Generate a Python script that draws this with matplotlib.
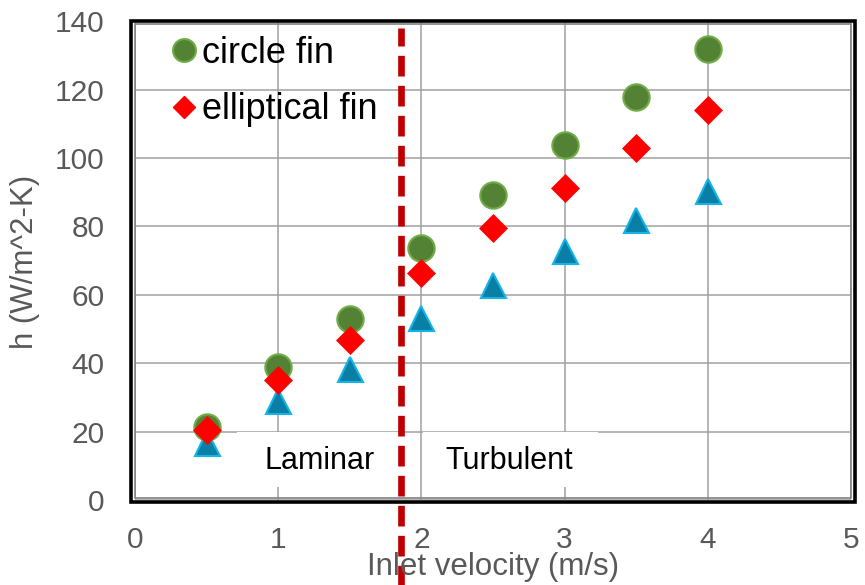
import matplotlib
matplotlib.use("Agg")
import matplotlib.pyplot as plt
from matplotlib.patches import Rectangle
from matplotlib.lines import Line2D

# data
velocity = [0.5, 1.0, 1.5, 2.0, 2.5, 3.0, 3.5, 4.0]
h_circle = [21.4, 39.0, 52.9, 73.6, 89.2, 103.7, 117.9, 131.8]
h_ellipse = [20.5, 35.1, 46.8, 66.3, 79.4, 91.3, 103.0, 114.0]
h_third = [16.6, 29.0, 38.4, 53.1, 62.9, 72.7, 81.9, 90.4]
x_ticks = [0, 1, 2, 3, 4, 5]
y_ticks = [0, 20, 40, 60, 80, 100, 120, 140]
transition_v = 1.857

W, H = 865, 585
fig = plt.figure(figsize=(W / 100, H / 100), dpi=100)


def px(x0, y0, x1, y1):
    # pixel box (top-left origin) -> figure fraction rect
    return [x0 / W, 1 - y1 / H, (x1 - x0) / W, (y1 - y0) / H]


ax = fig.add_axes(px(135, 21.2, 851, 500))
ax.set_xlim(0, 5)
ax.set_ylim(0, 140)
for s in ax.spines.values():
    s.set_visible(False)
ax.grid(True, color="#A0A0A0", linewidth=1.1, zorder=0)
ax.set_axisbelow(True)

tick_font = dict(family="Liberation Sans", size=21.5, color="#595959")
ax.set_xticks(x_ticks)
ax.set_yticks(y_ticks)
ax.set_xticklabels([str(t) for t in x_ticks], **tick_font)
ax.set_yticklabels([str(t) for t in y_ticks], **tick_font)
ax.tick_params(axis="both", length=0)
ax.tick_params(axis="x", pad=19)
ax.tick_params(axis="y", pad=22)

# frame: grey inner line and black outer line
inner = px(135, 23.5, 851, 497.5)
outer = px(131, 20.5, 855, 501.5)
fig.add_artist(Rectangle(inner[:2], inner[2], inner[3], transform=fig.transFigure,
                         fill=False, ec="#808080", lw=1.2))
fig.add_artist(Rectangle(outer[:2], outer[2], outer[3], transform=fig.transFigure,
                         fill=False, ec="black", lw=2.6))

# region labels sitting in white boxes
ax.add_patch(Rectangle((0.71, 3.8), transition_v - 0.71, 16.0, fc="white", ec="none", zorder=1))
ax.add_patch(Rectangle((2.01, 3.8), 1.22, 16.0, fc="white", ec="none", zorder=1))
lab_font = dict(family="Liberation Sans", size=22, color="black", zorder=2,
                ha="center", va="center")
ax.text(1.29, 11.5, "Laminar", **lab_font)
ax.text(2.61, 11.5, "Turbulent", **lab_font)

# transition line, runs past the bottom of the axes
ax.plot([transition_v, transition_v], [-26, 138], color="#C00000", lw=4.8,
        dashes=(3.1, 1.4), clip_on=False, zorder=3)

ax.plot(velocity, h_third, linestyle="none", marker="^", ms=18, mfc="#0A7FA5",
        mec="#14B4E8", mew=1.5, zorder=4)
ax.plot(velocity, h_circle, linestyle="none", marker="o", ms=19, mfc="#548235",
        mec="#70AD47", mew=1.5, zorder=4)
ax.plot(velocity, h_ellipse, linestyle="none", marker="D", ms=14, mfc="#FF0000",
        mec="#FF0000", mew=0.5, zorder=5)

handles = [
    Line2D([], [], linestyle="none", marker="o", ms=16.5, mfc="#548235", mec="#70AD47", mew=1.5),
    Line2D([], [], linestyle="none", marker="D", ms=11.5, mfc="#FF0000", mec="#FF0000"),
]
ax.legend(handles, ["circle fin", "elliptical fin"], loc="upper left",
          bbox_to_anchor=(0.056, 0.97), frameon=False, handlelength=0.5,
          handletextpad=0.25, labelspacing=0.6, borderaxespad=0, borderpad=0,
          prop=dict(family="Liberation Sans", size=26))

lab = dict(family="Liberation Sans", size=22.5, color="#595959")
fig.text(25 / W, 1 - 262 / H, "h (W/m^2-K)", rotation=90, ha="center", va="center", **lab)
fig.text(493 / W, 1 - 567 / H, "Inlet velocity (m/s)", ha="center", va="center", **lab)

fig.savefig("out.png", dpi=100)
